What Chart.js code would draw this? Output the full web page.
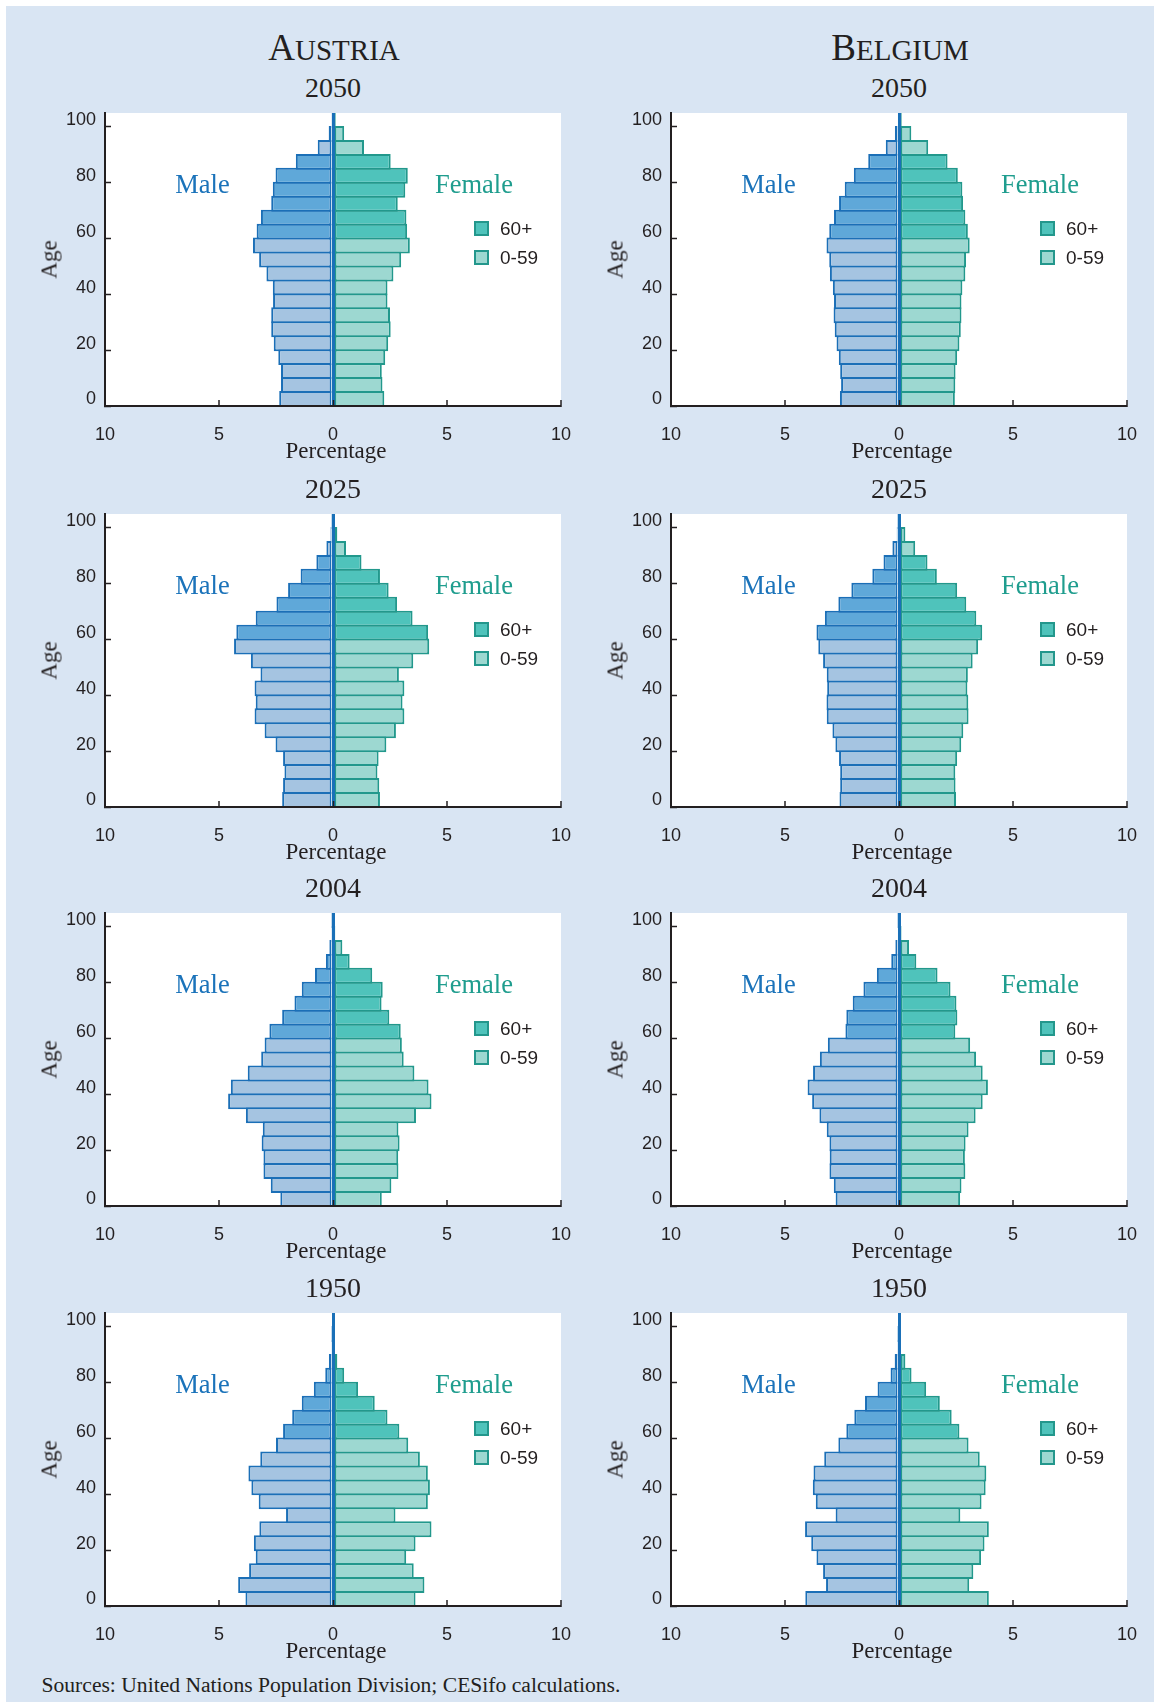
<!DOCTYPE html>
<html>
<head>
<meta charset="utf-8">
<title>Population pyramids: Austria and Belgium</title>
<script src="https://cdn.jsdelivr.net/npm/chart.js@4.4.1/dist/chart.umd.min.js"></script>
<style>
  html, body { margin: 0; padding: 0; }
  body { position: relative; width: 1154px; height: 1702px; background: #ffffff; overflow: hidden; }
  #panel { position: absolute; left: 6px; top: 6px; width: 1148px; height: 1696px; background: #d9e5f3; }
  canvas { position: absolute; }
  .txt { position: absolute; white-space: nowrap; color: #231f20; font-family: 'Liberation Serif', 'Times New Roman', serif; }
  .sans { font-family: 'Liberation Sans', Arial, sans-serif; }
  .box { position: absolute; width: 15px; height: 15px; box-sizing: border-box; border: 2px solid #23978c; }
</style>
</head>
<body>
<div id="panel"></div>
<script>
// age groups, bottom to top
var ageGroups = ['0-4', '5-9', '10-14', '15-19', '20-24', '25-29', '30-34', '35-39', '40-44', '45-49',
                 '50-54', '55-59', '60-64', '65-69', '70-74', '75-79', '80-84', '85-89', '90-94', '95-99', '100+'];
var ageStart = [0, 5, 10, 15, 20, 25, 30, 35, 40, 45, 50, 55, 60, 65, 70, 75, 80, 85, 90, 95, 100];
// colour group of each bar (the printed chart shows 90+ in the light colour)
var ageBand = ['0-59', '0-59', '0-59', '0-59', '0-59', '0-59', '0-59', '0-59', '0-59', '0-59', '0-59', '0-59',
               '60+', '60+', '60+', '60+', '60+', '60+', '0-59', '0-59', '0-59'];
var countries = ['Austria', 'Belgium'];
var years = ['2050', '2025', '2004', '1950'];
var xTicks = [-10, -5, 0, 5, 10];
var yTicks = [0, 20, 40, 60, 80, 100];

// percentages of total population, 0-4 up to 100+
var austria2050Male   = [2.36, 2.28, 2.28, 2.40, 2.60, 2.71, 2.71, 2.63, 2.64, 2.92, 3.24, 3.51, 3.35, 3.16, 2.71, 2.64, 2.52, 1.63, 0.67, 0.19, 0.05];
var austria2050Female = [2.25, 2.17, 2.14, 2.29, 2.42, 2.53, 2.50, 2.39, 2.39, 2.65, 2.99, 3.37, 3.25, 3.22, 2.84, 3.17, 3.28, 2.53, 1.36, 0.49, 0.12];
var belgium2050Male   = [2.59, 2.54, 2.58, 2.64, 2.74, 2.82, 2.87, 2.85, 2.90, 3.03, 3.06, 3.18, 3.06, 2.85, 2.63, 2.38, 1.98, 1.35, 0.58, 0.18, 0.06];
var belgium2050Female = [2.45, 2.47, 2.48, 2.55, 2.65, 2.71, 2.74, 2.74, 2.78, 2.91, 2.94, 3.10, 3.02, 2.91, 2.81, 2.78, 2.58, 2.13, 1.28, 0.54, 0.12];

var austria2025Male   = [2.23, 2.19, 2.13, 2.19, 2.52, 3.00, 3.44, 3.39, 3.44, 3.18, 3.60, 4.34, 4.24, 3.39, 2.48, 1.97, 1.42, 0.73, 0.29, 0.11, 0.04];
var austria2025Female = [2.06, 2.03, 1.95, 2.00, 2.34, 2.76, 3.13, 3.05, 3.13, 2.89, 3.52, 4.22, 4.17, 3.49, 2.81, 2.44, 2.06, 1.25, 0.57, 0.19, 0.04];
var belgium2025Male   = [2.61, 2.58, 2.58, 2.63, 2.79, 2.92, 3.17, 3.18, 3.15, 3.17, 3.33, 3.54, 3.62, 3.25, 2.66, 2.09, 1.17, 0.68, 0.29, 0.10, 0.04];
var belgium2025Female = [2.50, 2.48, 2.47, 2.55, 2.73, 2.82, 3.05, 3.04, 3.00, 3.02, 3.23, 3.47, 3.65, 3.39, 2.95, 2.55, 1.66, 1.25, 0.71, 0.28, 0.05];

var austria2004Male   = [2.31, 2.73, 3.05, 3.05, 3.13, 3.08, 3.82, 4.60, 4.48, 3.74, 3.15, 3.00, 2.79, 2.23, 1.69, 1.37, 0.79, 0.31, 0.16, 0.05, 0.02];
var austria2004Female = [2.14, 2.56, 2.87, 2.86, 2.92, 2.87, 3.64, 4.32, 4.19, 3.57, 3.10, 3.02, 2.97, 2.47, 2.13, 2.18, 1.72, 0.73, 0.41, 0.10, 0.03];
var belgium2004Male   = [2.78, 2.86, 3.05, 3.04, 3.05, 3.17, 3.49, 3.81, 4.01, 3.77, 3.47, 3.12, 2.35, 2.31, 2.03, 1.56, 0.97, 0.34, 0.16, 0.06, 0.02];
var belgium2004Female = [2.68, 2.74, 2.91, 2.89, 2.92, 3.05, 3.36, 3.67, 3.90, 3.67, 3.38, 3.12, 2.47, 2.56, 2.52, 2.26, 1.69, 0.76, 0.44, 0.11, 0.03];

var austria1950Male   = [3.84, 4.16, 3.68, 3.39, 3.47, 3.23, 2.06, 3.26, 3.58, 3.71, 3.19, 2.50, 2.19, 1.79, 1.37, 0.84, 0.34, 0.18, 0.08, 0.02, 0];
var austria1950Female = [3.62, 4.01, 3.54, 3.21, 3.62, 4.32, 2.74, 4.16, 4.25, 4.16, 3.81, 3.30, 2.91, 2.39, 1.83, 1.10, 0.49, 0.19, 0.08, 0.02, 0];
var belgium1950Male   = [4.11, 3.20, 3.33, 3.62, 3.85, 4.12, 2.78, 3.65, 3.78, 3.75, 3.28, 2.66, 2.31, 1.96, 1.49, 0.94, 0.37, 0.19, 0.05, 0.02, 0];
var belgium1950Female = [3.94, 3.08, 3.26, 3.60, 3.75, 3.94, 2.69, 3.62, 3.80, 3.83, 3.54, 3.05, 2.65, 2.31, 1.79, 1.19, 0.55, 0.28, 0.08, 0.02, 0];

var panels = [
  { col: 0, row: 0, male: austria2050Male, female: austria2050Female },
  { col: 1, row: 0, male: belgium2050Male, female: belgium2050Female },
  { col: 0, row: 1, male: austria2025Male, female: austria2025Female },
  { col: 1, row: 1, male: belgium2025Male, female: belgium2025Female },
  { col: 0, row: 2, male: austria2004Male, female: austria2004Female },
  { col: 1, row: 2, male: belgium2004Male, female: belgium2004Female },
  { col: 0, row: 3, male: austria1950Male, female: austria1950Female },
  { col: 1, row: 3, male: belgium1950Male, female: belgium1950Female }
];

// layout of the plot areas on the page
var colLeft = [105, 671];
var rowTop = [113, 514, 913, 1313];
var plotW = 456, plotH = 293;
var axisW = 60, axisH = 55, padTop = 10, padRight = 30;

var ink = '#231f20';
var maleText = '#1b73ba', femaleText = '#1f9d8e';
var maleBorder = '#1b6fb7', femaleBorder = '#22988c';
var male60 = '#5fa8d9', male0 = '#a5c4e1';
var female60 = '#4fc3bb', female0 = '#9dd8d1';

Chart.defaults.font.family = "'Liberation Sans', Arial, sans-serif";
Chart.defaults.font.size = 18;
Chart.defaults.color = ink;

var plotBackground = {
  id: 'plotBackground',
  beforeDraw: function(chart) {
    var a = chart.chartArea;
    var ctx = chart.ctx;
    ctx.save();
    ctx.fillStyle = '#ffffff';
    ctx.fillRect(a.left, a.top, a.right - a.left, a.bottom - a.top);
    ctx.restore();
  }
};

// text helper: x is the anchor, baseline is where the letters sit
function addText(html, x, baseline, size, opts) {
  opts = opts || {};
  var d = document.createElement('div');
  d.className = 'txt' + (opts.sans ? ' sans' : '');
  d.innerHTML = html;
  d.style.fontSize = size + 'px';
  d.style.lineHeight = size + 'px';
  d.style.top = (baseline - (opts.sans ? 0.8465 : 0.8375) * size) + 'px';
  d.style.left = x + 'px';
  if (opts.center) d.style.transform = 'translateX(-50%)';
  if (opts.color) d.style.color = opts.color;
  document.body.appendChild(d);
  return d;
}

function addBox(x, y, fill) {
  var b = document.createElement('div');
  b.className = 'box';
  b.style.left = x + 'px';
  b.style.top = y + 'px';
  b.style.background = fill;
  document.body.appendChild(b);
}

function makePanel(p) {
  var left = colLeft[p.col], top = rowTop[p.row];
  var dx = left - colLeft[0], dy = top - rowTop[0];

  var canvas = document.createElement('canvas');
  canvas.width = axisW + plotW + padRight;
  canvas.height = padTop + plotH + axisH;
  canvas.style.left = (left - axisW) + 'px';
  canvas.style.top = (top - padTop) + 'px';
  document.body.appendChild(canvas);

  var maleData = p.male.map(function(v, i) { return { x: -v, y: ageStart[i] + 2.5 }; });
  var femaleData = p.female.map(function(v, i) { return { x: v, y: ageStart[i] + 2.5 }; });

  new Chart(canvas, {
    type: 'bar',
    data: {
      datasets: [{
        label: 'Male',
        data: maleData,
        backgroundColor: ageBand.map(function(b) { return b === '60+' ? male60 : male0; }),
        borderColor: maleBorder,
        borderWidth: 2,
        borderSkipped: false,
        grouped: false,
        categoryPercentage: 1,
        barPercentage: 1.14
      }, {
        label: 'Female',
        data: femaleData,
        backgroundColor: ageBand.map(function(b) { return b === '60+' ? female60 : female0; }),
        borderColor: femaleBorder,
        borderWidth: 2,
        borderSkipped: false,
        grouped: false,
        categoryPercentage: 1,
        barPercentage: 1.14
      }]
    },
    options: {
      indexAxis: 'y',
      responsive: false,
      animation: false,
      devicePixelRatio: 1,
      layout: { padding: { top: padTop, right: padRight, left: 0, bottom: 0 } },
      plugins: { legend: { display: false }, tooltip: { enabled: false } },
      scales: {
        x: {
          type: 'linear',
          min: -10,
          max: 10,
          afterBuildTicks: function(s) { s.ticks = xTicks.map(function(v) { return { value: v }; }); },
          afterFit: function(s) { s.height = axisH; s.paddingLeft = 0; s.paddingRight = 0; },
          ticks: {
            callback: function(v) { return Math.abs(v); },
            padding: 24,
            maxRotation: 0,
            autoSkip: false
          },
          grid: {
            z: 1,
            drawOnChartArea: true,
            color: function(c) { return c.tick && c.tick.value === 0 ? '#1a70b8' : 'rgba(0,0,0,0)'; },
            lineWidth: function(c) { return c.tick && c.tick.value === 0 ? 3 : 0; },
            tickLength: -6,
            tickColor: ink,
            tickWidth: 1.5
          },
          border: { display: true, color: ink, width: 2, z: 1 }
        },
        y: {
          type: 'linear',
          min: 0,
          max: 105,
          offset: false,
          afterBuildTicks: function(s) { s.ticks = yTicks.map(function(v) { return { value: v }; }); },
          afterFit: function(s) { s.width = axisW; s.paddingTop = 0; s.paddingBottom = 0; },
          ticks: { padding: 15, labelOffset: -6.5, autoSkip: false },
          grid: { offset: false, drawOnChartArea: false, tickLength: -6, tickColor: ink, tickWidth: 1.5 },
          border: { display: true, color: ink, width: 2 }
        }
      }
    },
    plugins: [plotBackground]
  });

  // texts around the plot
  addText(years[p.row], 333 + dx, 97 + dy, 28, { center: true });
  addText('Male', 202.5 + dx, 192.7 + dy, 26.5, { center: true, color: maleText });
  addText('Female', 474 + dx, 192.7 + dy, 26.5, { center: true, color: femaleText });
  addBox(474 + dx, 221 + dy, female60);
  addBox(474 + dx, 249.5 + dy, female0);
  addText('60+', 500 + dx, 235.5 + dy, 19, { sans: true });
  addText('0-59', 500 + dx, 264.5 + dy, 19, { sans: true });
  addText('Percentage', 336 + dx, 458 + dy, 23, { center: true });

  var age = document.createElement('div');
  age.className = 'txt';
  age.textContent = 'Age';
  age.style.fontSize = '23px';
  age.style.lineHeight = '23px';
  age.style.width = '60px';
  age.style.textAlign = 'center';
  age.style.left = (48.6 + dx - 30) + 'px';
  age.style.top = (259.5 + dy - 11.5) + 'px';
  age.style.transform = 'rotate(-90deg)';
  document.body.appendChild(age);
}

panels.forEach(makePanel);

// country headings in small capitals
countries.forEach(function(name, i) {
  var up = name.toUpperCase();
  var html = '<span style="font-size:37px">' + up.charAt(0) + '</span><span style="font-size:29px">' + up.slice(1) + '</span>';
  addText(html, 334 + (colLeft[i] - colLeft[0]), 60, 37, { center: true });
});

addText('Sources: United Nations Population Division; CESifo calculations.', 41.5, 1693, 21.6);
</script>
</body>
</html>
